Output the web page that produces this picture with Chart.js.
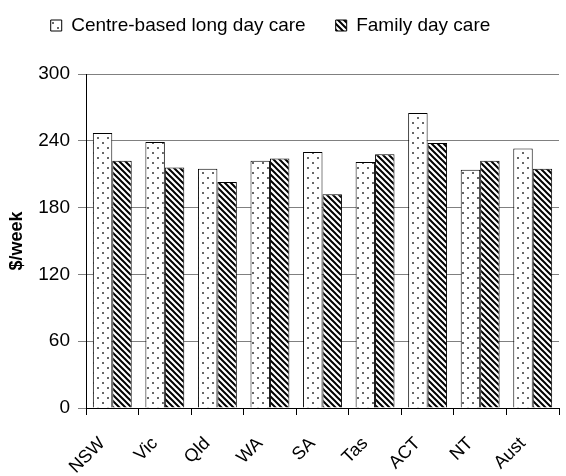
<!DOCTYPE html>
<html>
<head>
<meta charset="utf-8">
<script src="https://cdn.jsdelivr.net/npm/chart.js@4/dist/chart.umd.min.js"></script>
<style>
  html, body { margin: 0; padding: 0; background: #fff; }
  #wrap { width: 566px; height: 476px; }
</style>
</head>
<body>
<div id="wrap"><canvas id="chart"></canvas></div>
<script>
// Data
const categories = ["NSW", "Vic", "Qld", "WA", "SA", "Tas", "ACT", "NT", "Aust"];
const centreBased = [247, 239, 215, 222, 230, 221, 265, 214, 233];
const familyDayCare = [222, 216, 203, 224, 192, 228, 238, 222, 215];
const yTicks = [0, 60, 120, 180, 240, 300];

// Patterns
function dotPattern() {
  const c = document.createElement("canvas");
  c.width = 10; c.height = 10;
  const g = c.getContext("2d");
  g.fillStyle = "#fff";
  g.fillRect(0, 0, 10, 10);
  g.fillStyle = "#666";
  g.fillRect(2, 2, 2, 2);
  g.fillRect(7, 7, 2, 2);
  return g.createPattern(c, "repeat");
}

function hatchPattern() {
  const s = 6;
  const c = document.createElement("canvas");
  c.width = s; c.height = s;
  const g = c.getContext("2d");
  g.fillStyle = "#fff";
  g.fillRect(0, 0, s, s);
  g.strokeStyle = "#000";
  g.lineWidth = 2;
  g.beginPath();
  g.moveTo(-s, 0); g.lineTo(s, 2 * s);
  g.moveTo(0, 0); g.lineTo(s, s);
  g.moveTo(0, -s); g.lineTo(2 * s, s);
  g.stroke();
  return g.createPattern(c, "repeat");
}

const font = "'Liberation Sans', Arial, sans-serif";

// legende : plus d'espace en dessous, et decalee un peu a gauche
const legendSpace = {
  id: "legendSpace",
  beforeInit(chart) {
    const fit = chart.legend.fit;
    chart.legend.fit = function () {
      fit.bind(chart.legend)();
      this.height += 29;
    };
  },
  afterLayout(chart) {
    chart.legend.left -= 18;
    chart.legend.right -= 18;
  }
};

new Chart(document.getElementById("chart"), {
  type: "bar",
  data: {
    labels: categories,
    datasets: [
      {
        label: "Centre-based long day care",
        data: centreBased,
        backgroundColor: dotPattern(),
        borderColor: "#000",
        borderWidth: 1,
        categoryPercentage: 0.74,
        barPercentage: 1.0
      },
      {
        label: "Family day care",
        data: familyDayCare,
        backgroundColor: hatchPattern(),
        borderColor: "#000",
        borderWidth: 1,
        categoryPercentage: 0.74,
        barPercentage: 1.0
      }
    ]
  },
  options: {
    responsive: true,
    maintainAspectRatio: false,
    animation: false,
    layout: { padding: { left: 6, right: -5, top: -14, bottom: 0 } },
    plugins: {
      legend: {
        position: "top",
        labels: {
          font: { family: font, size: 19 },
          color: "#000",
          boxWidth: 11,
          boxHeight: 11,
          padding: 30
        }
      },
      tooltip: { enabled: false }
    },
    scales: {
      x: {
        afterFit: axis => { axis.height = 68; },
        grid: { drawOnChartArea: false, drawTicks: true, tickLength: 7, color: "#000", offset: true },
        border: { color: "#000" },
        ticks: {
          font: { family: font, size: 18 },
          color: "#000",
          maxRotation: 45,
          minRotation: 45,
          autoSkip: false,
          padding: 18,
          labelOffset: -10
        }
      },
      y: {
        min: 0,
        max: 300,
        afterBuildTicks: axis => { axis.ticks = yTicks.map(v => ({ value: v })); },
        afterFit: axis => { axis.width = 80; },
        grid: { color: "#808080", tickLength: 8 },
        border: { color: "#000" },
        ticks: {
          font: { family: font, size: 19 },
          color: "#000",
          padding: 8
        },
        title: {
          display: true,
          text: "$/week",
          font: { family: font, size: 18, weight: "bold" },
          color: "#000",
          padding: 0
        }
      }
    }
  },
  plugins: [legendSpace]
});
</script>
</body>
</html>
